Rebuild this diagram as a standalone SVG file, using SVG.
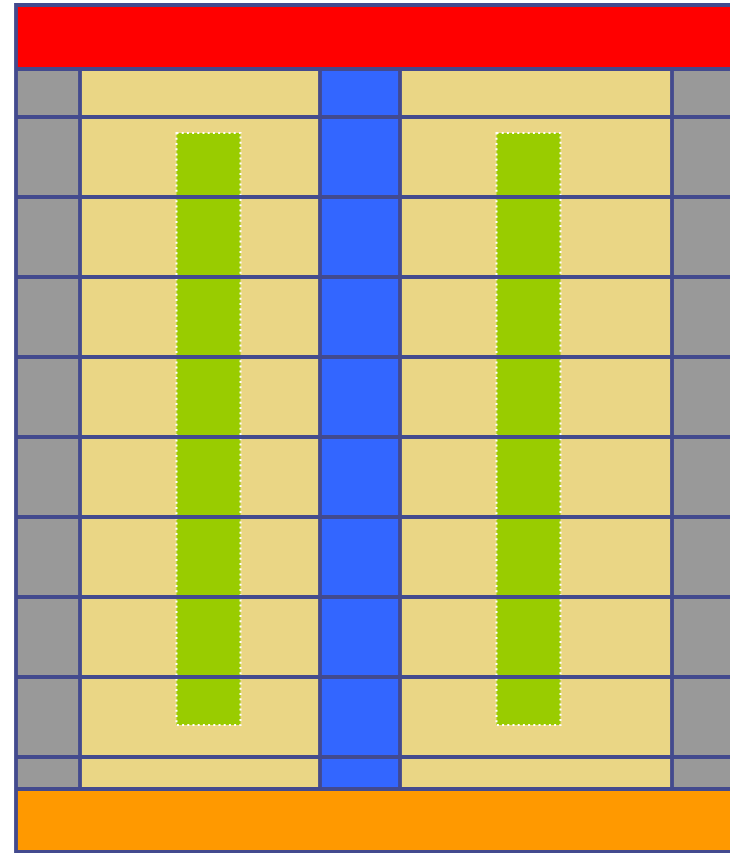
<svg xmlns="http://www.w3.org/2000/svg" width="730" height="853" viewBox="0 0 730 853">
<style>
.ln{stroke:#434a8e;stroke-width:3.8;fill:none}
.bar{fill:#99cc00;stroke:#ffffff;stroke-width:2;stroke-dasharray:2 3.2}
</style>
<rect width="730" height="853" fill="#ffffff"/>
<g id="red-band"><rect x="16" y="5" width="720" height="64" fill="#ff0000"/></g>
<g id="gray-left"><rect x="16" y="69" width="64" height="720" fill="#999999"/></g>
<g id="yellow-left"><rect x="80" y="69" width="240" height="720" fill="#ead685"/></g>
<g id="blue-column"><rect x="320" y="69" width="80" height="720" fill="#3366ff"/></g>
<g id="yellow-right"><rect x="400" y="69" width="272" height="720" fill="#ead685"/></g>
<g id="gray-right"><rect x="672" y="69" width="64" height="720" fill="#999999"/></g>
<g id="orange-band"><rect x="16" y="789" width="720" height="66" fill="#ff9900"/></g>
<g id="green-left"><rect class="bar" x="176.5" y="133" width="64" height="592"/></g>
<g id="green-right"><rect class="bar" x="496.5" y="133" width="64" height="592"/></g>
<g id="grid-lines" class="ln">
<path d="M16 5H735M16 69H735M16 117H735M16 197H735M16 277H735M16 357H735M16 437H735M16 517H735M16 597H735M16 677H735M16 757H735M16 789H735M16 852H735"/>
<path d="M16 3V853M80 69V789M320 69V789M400 69V789M672 69V789"/>
</g>
</svg>
